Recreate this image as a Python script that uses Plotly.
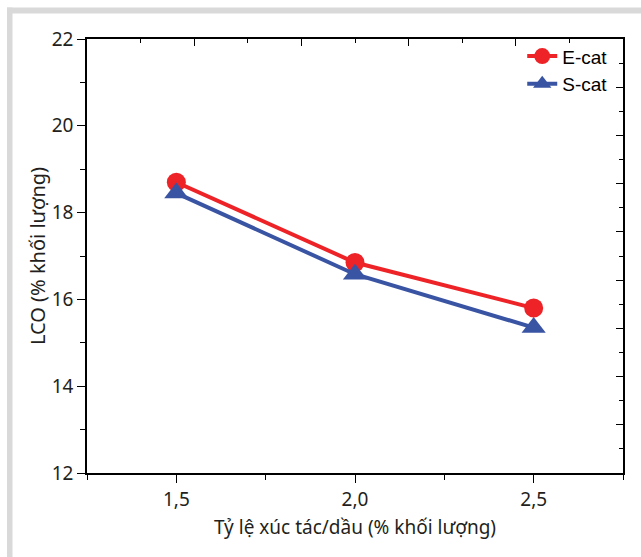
import plotly.graph_objects as go

ratio = [1.5, 2.0, 2.5]
e_cat = [18.70, 16.85, 15.80]
s_cat = [18.45, 16.58, 15.35]

W, H = 641, 557
L, R, T, B = 87, 18, 39, 84
pw, ph = W - L - R, H - T - B

def px_x(x):
    return (x - L) / pw

def px_y(y):
    return (H - B - y) / ph

fig = go.Figure()
fig.add_trace(go.Scatter(x=ratio, y=e_cat, name="E-cat", mode="lines+markers",
                         line=dict(color="#ED2327", width=4),
                         marker=dict(symbol="circle", size=19, color="#ED2327")))
fig.add_trace(go.Scatter(x=ratio, y=s_cat, name="S-cat", mode="lines+markers",
                         line=dict(color="#3A54A4", width=4),
                         marker=dict(symbol="triangle-up", size=21, color="#3A54A4")))
# dummy trace for secondary axes
fig.add_trace(go.Scatter(x=[0], y=[0], xaxis="x2", yaxis="y2", showlegend=False,
                         mode="markers", marker=dict(opacity=0), hoverinfo="skip"))

tickfont = dict(family="Noto Sans", size=19, color="#231F20")
fig.update_layout(
    width=W, height=H,
    margin=dict(l=L, r=R, t=T, b=B),
    paper_bgcolor="white", plot_bgcolor="white",
    separators=",.",
    showlegend=True,
    legend=dict(x=0.812, y=1.004, xanchor="left", yanchor="top",
                bgcolor="rgba(0,0,0,0)", font=dict(family="Liberation Sans", size=19, color="black"),
                tracegroupgap=0, itemsizing="trace"),
    xaxis=dict(range=[1.25, 2.75], tickvals=ratio, tickformat=".1f",
               ticks="outside", ticklen=8, tickwidth=1.3, tickcolor="black",
               minor=dict(dtick=0.25, tick0=1.25, ticks="outside", ticklen=5, tickwidth=1.3, tickcolor="black"),
               showline=True, linecolor="black", linewidth=1.5, showgrid=False, zeroline=False,
               tickfont=tickfont,
               title=dict(text="Tỷ lệ xúc tác/dầu (% khối lượng)", font=dict(family="Noto Sans", size=19, color="#231F20"), standoff=10)),
    yaxis=dict(range=[12, 22], dtick=2, tick0=12,
               ticks="outside", ticklen=8, tickwidth=1.3, tickcolor="black",
               minor=dict(dtick=1, ticks="outside", ticklen=5, tickwidth=1.3, tickcolor="black"),
               showline=True, linecolor="black", linewidth=1.5, showgrid=False, zeroline=False,
               tickfont=tickfont,
               title=dict(text="LCO (% khối lượng)", font=dict(family="Noto Sans", size=20, color="#231F20"), standoff=1)),
    xaxis2=dict(overlaying="x", side="top", range=[0, 10], dtick=2, tick0=0,
                ticks="inside", ticklen=7, tickwidth=1.3, tickcolor="black",
                minor=dict(dtick=1, ticks="inside", ticklen=4, tickwidth=1.3, tickcolor="black"),
                showticklabels=False, showline=True, linecolor="black", linewidth=1.5,
                showgrid=False, zeroline=False),
    yaxis2=dict(overlaying="y", side="right", range=[0, 18], dtick=2, tick0=0,
                ticks="inside", ticklen=7, tickwidth=1.3, tickcolor="black",
                minor=dict(dtick=1, ticks="inside", ticklen=4, tickwidth=1.3, tickcolor="black"),
                showticklabels=False, showline=True, linecolor="black", linewidth=1.5,
                showgrid=False, zeroline=False),
)

# grey frame bands
grey = "#D9D9D9"
fig.add_shape(type="rect", xref="paper", yref="paper", layer="below",
              x0=px_x(7), x1=px_x(W + 2), y0=px_y(13.5), y1=px_y(7.5),
              fillcolor=grey, line=dict(width=0))
fig.add_shape(type="rect", xref="paper", yref="paper", layer="below",
              x0=px_x(7), x1=px_x(12.5), y0=px_y(H + 2), y1=px_y(7.5),
              fillcolor=grey, line=dict(width=0))

fig.write_html("out.html")
